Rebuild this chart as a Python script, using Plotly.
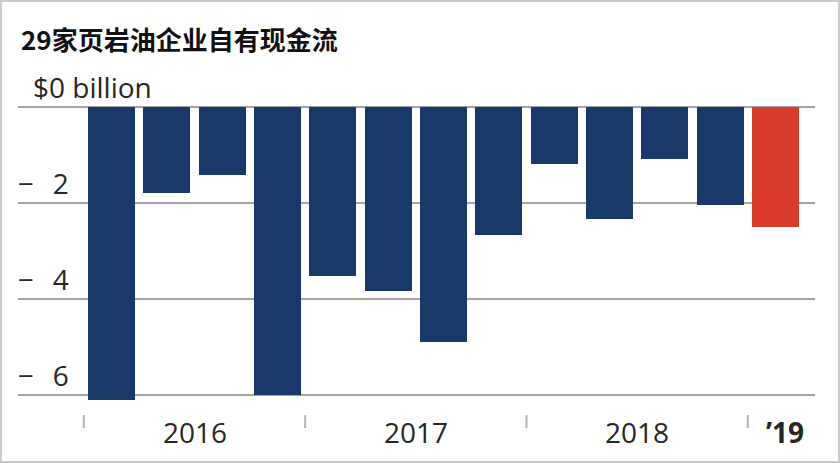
import plotly.graph_objects as go

# ---- data ----
quarters = ["2016 Q1", "2016 Q2", "2016 Q3", "2016 Q4",
            "2017 Q1", "2017 Q2", "2017 Q3", "2017 Q4",
            "2018 Q1", "2018 Q2", "2018 Q3", "2018 Q4",
            "2019 Q1"]
free_cash_flow = [-6.1, -1.8, -1.42, -6.0,
                  -3.52, -3.83, -4.9, -2.67,
                  -1.19, -2.33, -1.08, -2.04,
                  -2.51]
year_groups = ["2016", "2017", "2018", "’19"]
year_counts = [4, 4, 4, 1]
tick_values = [0, -2, -4, -6]
tick_labels = ["$0 billion", "−\u2002\u20092", "−\u2002\u20094", "−\u2002\u20096"]
title_text = "29家页岩油企业自有现金流"

NAVY = "#173a6b"
RED = "#d83b2b"
GRID = "#a4a4a4"
TEXT = "#262626"

W, H = 840, 463
x_pos = list(range(len(quarters)))
bar_colors = [NAVY] * (len(quarters) - 1) + [RED]

fig = go.Figure()
fig.add_trace(go.Bar(
    x=x_pos, y=free_cash_flow, width=0.85,
    marker=dict(color=bar_colors, line=dict(width=0)),
    hovertext=quarters, hoverinfo="text+y",
))

# pixel geometry -> axis ranges
px_per_unit_x = 55.33
first_center_px = 111.5
px_per_unit_y = 48.0
zero_px = 107.0
x_range = [-first_center_px / px_per_unit_x,
           (W - first_center_px) / px_per_unit_x]
y_range = [-(H - zero_px) / px_per_unit_y, zero_px / px_per_unit_y]

shapes = []
annotations = []
# gridlines + y labels
for v, lab in zip(tick_values, tick_labels):
    shapes.append(dict(type="line", xref="paper", yref="y",
                       x0=18 / W, x1=815 / W, y0=v, y1=v,
                       line=dict(color=GRID, width=2), layer="below"))
    annotations.append(dict(
        xref="paper", yref="y", x=(31 if v == 0 else 16) / W, y=v,
        xanchor="left", yanchor="bottom", yshift=-1, showarrow=False,
        text=lab, font=dict(family="Open Sans", size=28, color=TEXT)))

# year separators and labels
start = 0
for i, (yr, n) in enumerate(zip(year_groups, year_counts)):
    sep = start - 0.5
    shapes.append(dict(type="line", xref="x", yref="paper",
                       x0=sep, x1=sep, y0=1 - 428 / H, y1=1 - 415 / H,
                       line=dict(color="#b5b5b5", width=2)))
    center = start + (n - 1) / 2
    last = (i == len(year_groups) - 1)
    annotations.append(dict(
        xref="x", yref="paper", x=center, y=1 - 432 / H,
        xanchor="center", yanchor="middle", showarrow=False,
        xshift=10 if last else 0,
        text=f"<b>{yr}</b>" if last else yr,
        font=dict(family="Open Sans", size=28, color=TEXT)))
    start += n

# title
annotations.append(dict(
    xref="paper", yref="paper", x=19 / W, y=1 - 38 / H,
    xanchor="left", yanchor="middle", showarrow=False,
    text=f"<b>{title_text}</b>",
    font=dict(family="Noto Sans CJK SC", size=26, color="#111111")))

# thin frame around the picture
shapes.append(dict(type="rect", xref="paper", yref="paper",
                   x0=0.001, x1=0.999, y0=0.002, y1=0.998,
                   line=dict(color="#c8c8c8", width=2)))

fig.update_layout(
    width=W, height=H,
    margin=dict(l=0, r=0, t=0, b=0),
    paper_bgcolor="white", plot_bgcolor="white",
    showlegend=False,
    xaxis=dict(range=x_range, visible=False, fixedrange=True),
    yaxis=dict(range=y_range, visible=False, fixedrange=True),
    shapes=shapes, annotations=annotations,
    bargap=0,
)

fig.write_html("out.html")
